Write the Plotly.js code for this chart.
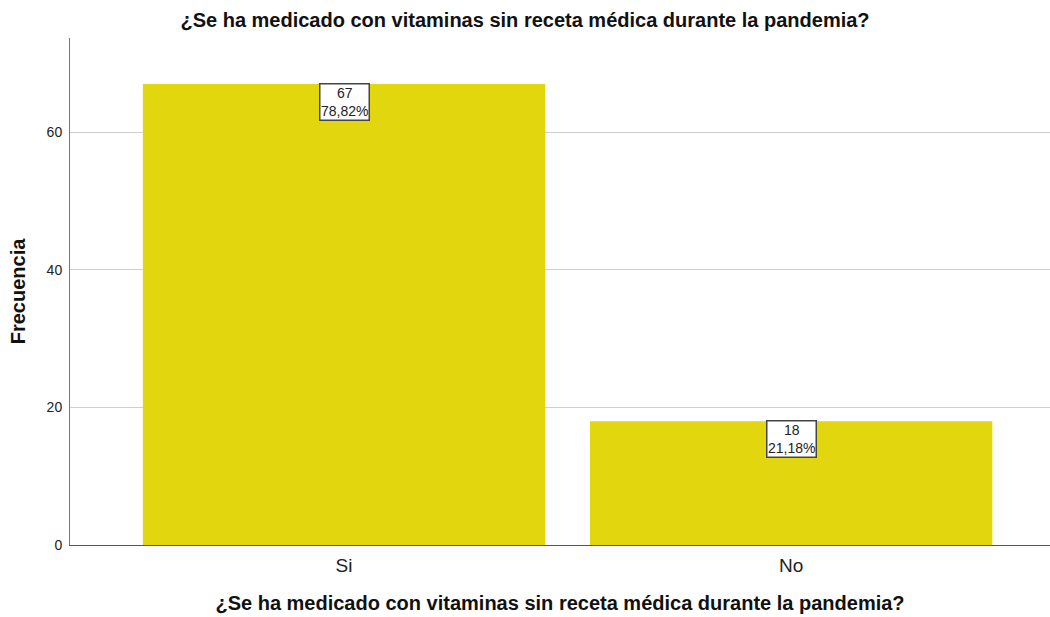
<!DOCTYPE html>
<html>
<head>
<meta charset="utf-8">
<script src="https://cdn.plot.ly/plotly-3.0.1.min.js"></script>
<style>html,body{margin:0;padding:0;background:#fff;}#chart{width:1050px;height:617px;}</style>
</head>
<body>
<div id="chart"></div>
<script>
var categories = ["Si", "No"];
var counts = [67, 18];
var percents = ["78,82%", "21,18%"];
var yTicks = [0, 20, 40, 60];
var titleText = "¿Se ha medicado con vitaminas sin receta médica durante la pandemia?";

var FONT = "Liberation Sans, Arial, sans-serif";

var trace = {
  type: "bar",
  x: categories,
  y: counts,
  width: 0.9,
  marker: { color: "rgb(226,214,14)", line: { width: 0 } },
  hoverinfo: "none"
};

var annotations = categories.map(function (c, i) {
  return {
    x: c, y: counts[i], xref: "x", yref: "y",
    yanchor: "top", xanchor: "center", yshift: 1,
    text: counts[i] + "<br>" + percents[i],
    showarrow: false,
    font: { family: FONT, size: 14, color: "#222" },
    bgcolor: "#ffffff",
    bordercolor: "#444",
    borderwidth: 1.5,
    borderpad: 0.5
  };
});

var layout = {
  width: 1050, height: 617,
  margin: { l: 70, r: 0, t: 38, b: 72 },
  paper_bgcolor: "#fff", plot_bgcolor: "#fff",
  font: { family: FONT, color: "#222" },
  title: { text: "<b>" + titleText + "</b>", font: { family: FONT, size: 20, color: "#111" }, x: 0.5, xanchor: "center", y: 0.967, yanchor: "middle" },
  showlegend: false,
  xaxis: {
    type: "category",
    range: [-0.613, 1.579],
    showgrid: false,
    showline: true, linecolor: "#555", linewidth: 1,
    ticks: "",
    ticklabelstandoff: 3,
    tickfont: { family: FONT, size: 19, color: "#222" },
    title: { text: "<b>" + titleText + "</b>", font: { family: FONT, size: 20, color: "#111" }, standoff: 21 },
    fixedrange: true
  },
  yaxis: {
    range: [0, 73.7],
    tickvals: yTicks,
    ticktext: yTicks.map(String),
    showgrid: true, gridcolor: "#cfcfcf", gridwidth: 1,
    zeroline: false,
    showline: true, linecolor: "#777", linewidth: 1,
    ticks: "",
    ticklabelstandoff: 4,
    tickfont: { family: FONT, size: 14, color: "#222" },
    title: { text: "<b>Frecuencia</b>", font: { family: FONT, size: 20, color: "#111" }, standoff: 15 },
    fixedrange: true
  },
  annotations: annotations
};

Plotly.newPlot("chart", [trace], layout, { displayModeBar: false, staticPlot: true });
</script>
</body>
</html>
